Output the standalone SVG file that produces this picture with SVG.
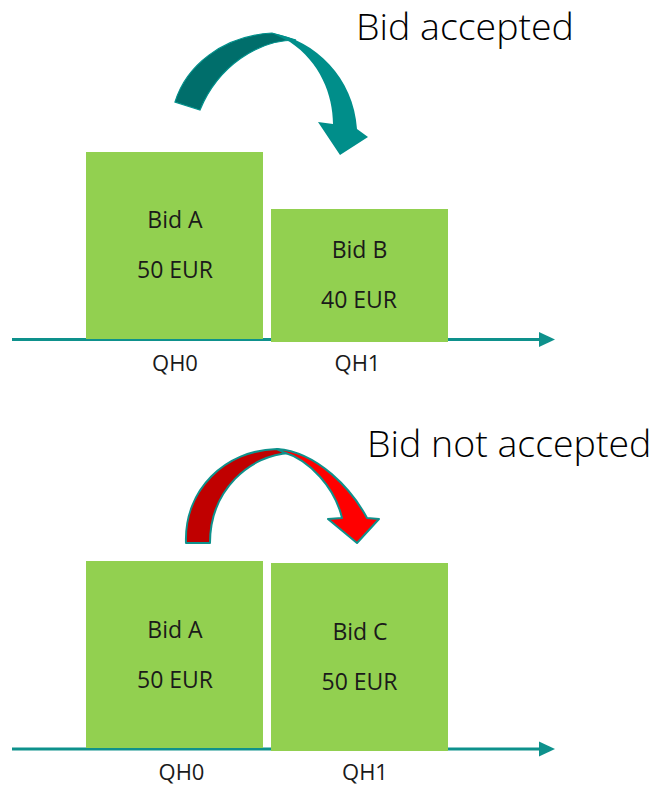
<svg xmlns="http://www.w3.org/2000/svg" width="659" height="787" viewBox="0 0 659 787">
<style>
  .box { fill: #92D050; }
  .t { font-family: "Open Sans", "Liberation Sans", sans-serif; fill: #1a1a1a; text-anchor: middle; font-size: 23px; }
  .qh { font-family: "Open Sans", "Liberation Sans", sans-serif; fill: #1a1a1a; text-anchor: middle; font-size: 22px; }
  .title { font-family: "Open Sans", "Liberation Sans", sans-serif; fill: #000; font-size: 37.5px; font-weight: 300; }
  .axis { stroke: #0E918C; stroke-width: 3; fill: none; }
  .head { fill: #0E918C; }
</style>
<rect width="659" height="787" fill="#fff"/>
<g id="connectors">
  <line class="axis" x1="12" y1="339.5" x2="542" y2="339.5"/>
  <polygon class="head" points="539,332 555,339.5 539,347"/>
  <line class="axis" x1="12" y1="749" x2="542" y2="749"/>
  <polygon class="head" points="539,741.5 555,749 539,756.5"/>
</g>
<g id="arrow-accepted">
  <path d="M175,102 C186,66 222,36 272,33 L296,40 C258,40 218,66 200,110 Z" fill="#006E6B" stroke="#00918C" stroke-width="1.2"/>
  <path d="M272,33 C315,40 354,78 357,129 L368,137 L340,155 L318,122 L333,124 C333,95 320,62 290,42 Z" fill="#008E8A"/>
</g>
<g id="arrow-not-accepted">
  <path d="M186,543 C184,490 225,450 277,449 L290,453 C250,455 210,490 210,543 Z" fill="#C00000" stroke="#0E918C" stroke-width="2" stroke-linejoin="round"/>
  <path d="M277,449 C318,452 352,490 367,518 L379,519 L357,543 L328,519 L342,518 C335,488 310,460 283,452 Z" fill="#FF0000" stroke="#0E918C" stroke-width="2" stroke-linejoin="round"/>
</g>
<g id="bidA-top">
  <rect class="box" x="86" y="152" width="177" height="187"/>
  <text class="t" x="175" y="228">Bid A</text>
  <text class="t" x="175" y="278">50 EUR</text>
</g>
<g id="bidB">
  <rect class="box" x="271" y="209" width="177" height="133"/>
  <text class="t" x="359.5" y="258">Bid B</text>
  <text class="t" x="359" y="308">40 EUR</text>
</g>
<g id="labels-top">
  <text class="qh" x="175" y="371">QH0</text>
  <text class="qh" x="357.5" y="371">QH1</text>
  <text class="title" x="356" y="40">Bid accepted</text>
</g>
<g id="bidA-bottom">
  <rect class="box" x="86" y="561" width="177" height="187"/>
  <text class="t" x="175" y="638">Bid A</text>
  <text class="t" x="175" y="688">50 EUR</text>
</g>
<g id="bidC">
  <rect class="box" x="271" y="563" width="177" height="188"/>
  <text class="t" x="360" y="640">Bid C</text>
  <text class="t" x="359.5" y="690">50 EUR</text>
</g>
<g id="labels-bottom">
  <text class="qh" x="181.5" y="780">QH0</text>
  <text class="qh" x="365" y="780">QH1</text>
  <text class="title" x="367" y="457">Bid not accepted</text>
</g>
</svg>
